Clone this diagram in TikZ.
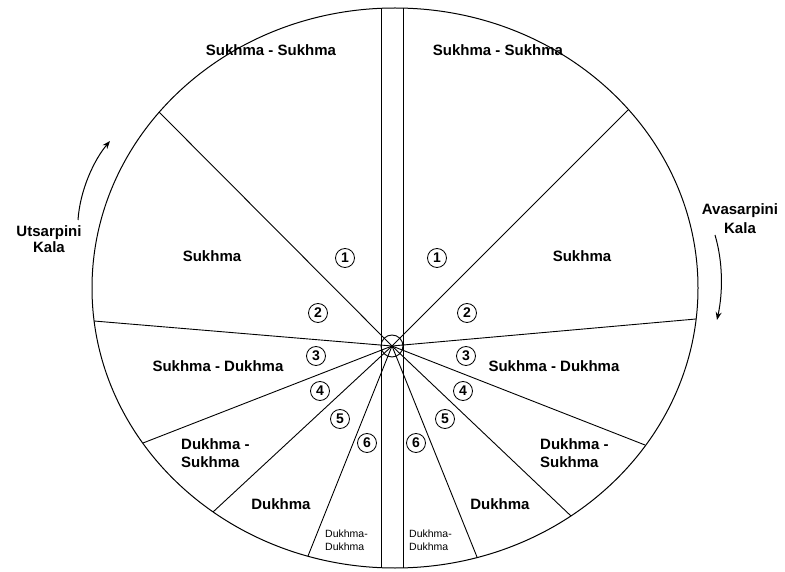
\documentclass[tikz,border=0pt]{standalone}
\usepackage{fontspec}
\setmainfont{Liberation Sans}
\usetikzlibrary{arrows.meta}

\begin{document}
\begin{tikzpicture}[
    x=1pt, y=-1pt,
    rim/.style={line width=1pt},
    spoke/.style={line width=0.9pt},
    era/.style={font=\fontsize{15}{18}\selectfont\bfseries, inner sep=0pt, align=center},
    eraw/.style={era, align=left, anchor=west},
    tiny/.style={font=\fontsize{10.5}{13}\selectfont, inner sep=0pt, align=left, anchor=west},
    num/.style={circle, draw, line width=0.8pt, minimum size=19pt, inner sep=0pt,
                font=\fontsize{14}{14}\selectfont\bfseries},
    kala/.style={font=\fontsize{15}{15.5}\selectfont\bfseries, align=center, inner sep=0pt},
    turn/.style={-{Stealth[length=8pt, width=6pt]}, line width=1pt}
]
\useasboundingbox (0,0) rectangle (785,572);
\fill[white] (0,0) rectangle (785,572);

\coordinate (hub) at (392,346);
\coordinate (l1) at (159,112);
\coordinate (l2) at (94,321);
\coordinate (l3) at (143,443);
\coordinate (l4) at (213,512);
\coordinate (l5) at (308,556);
\coordinate (r1) at (628,110);
\coordinate (r2) at (696,319);
\coordinate (r3) at (645,445);
\coordinate (r4) at (571,516);
\coordinate (r5) at (477,557);
\coordinate (ta) at (381,8);
\coordinate (ba) at (381,568);
\coordinate (tb) at (403,8);
\coordinate (bb) at (403,568);

\draw[rim] (395,288) ellipse [x radius=303pt, y radius=280pt];
\draw[spoke] (ta) -- (ba);
\draw[spoke] (tb) -- (bb);
\foreach \p in {l1,l2,l3,l4,l5,r1,r2,r3,r4,r5}
    \draw[spoke] (hub) -- (\p);
\draw[spoke] (hub) circle [radius=11pt];

\node[era] (ssl) at (271,50) {Sukhma - Sukhma};
\node[era] (ssr) at (498,50) {Sukhma - Sukhma};
\node[era] (sl) at (212,256) {Sukhma};
\node[era] (sr) at (582,256) {Sukhma};
\node[era] (sdl) at (218,366) {Sukhma - Dukhma};
\node[era] (sdr) at (554,366) {Sukhma - Dukhma};
\node[eraw] (dsl) at (181,453) {Dukhma -\\Sukhma};
\node[eraw] (dsr) at (540,453) {Dukhma -\\Sukhma};
\node[era] (dl) at (281,504) {Dukhma};
\node[era] (dr) at (500,504) {Dukhma};
\node[tiny] (ddl) at (325,540) {Dukhma-\\Dukhma};
\node[tiny] (ddr) at (409,540) {Dukhma-\\Dukhma};

\node[num] (n1l) at (345,258) {1};
\node[num] (n2l) at (318,313) {2};
\node[num] (n3l) at (316,356) {3};
\node[num] (n4l) at (320,391) {4};
\node[num] (n5l) at (340,419) {5};
\node[num] (n6l) at (367,443) {6};
\node[num] (n1r) at (437,258) {1};
\node[num] (n2r) at (467,313) {2};
\node[num] (n3r) at (466,356) {3};
\node[num] (n4r) at (463,391) {4};
\node[num] (n5r) at (445,419) {5};
\node[num] (n6r) at (416,443) {6};

\node[kala] (uts) at (49,239) {Utsarpini\\Kala};
\node[kala, font=\fontsize{15}{19}\selectfont\bfseries] (ava) at (740,219) {Avasarpini\\Kala};
\coordinate (ua) at (78,220);
\coordinate (ub) at (110,141);
\coordinate (aa) at (715,235);
\coordinate (ab) at (717,320);
\draw[turn] (ua) .. controls (80,190) and (94,160) .. (ub);
\draw[turn] (aa) .. controls (723,262) and (723,292) .. (ab);
\end{tikzpicture}
\end{document}
